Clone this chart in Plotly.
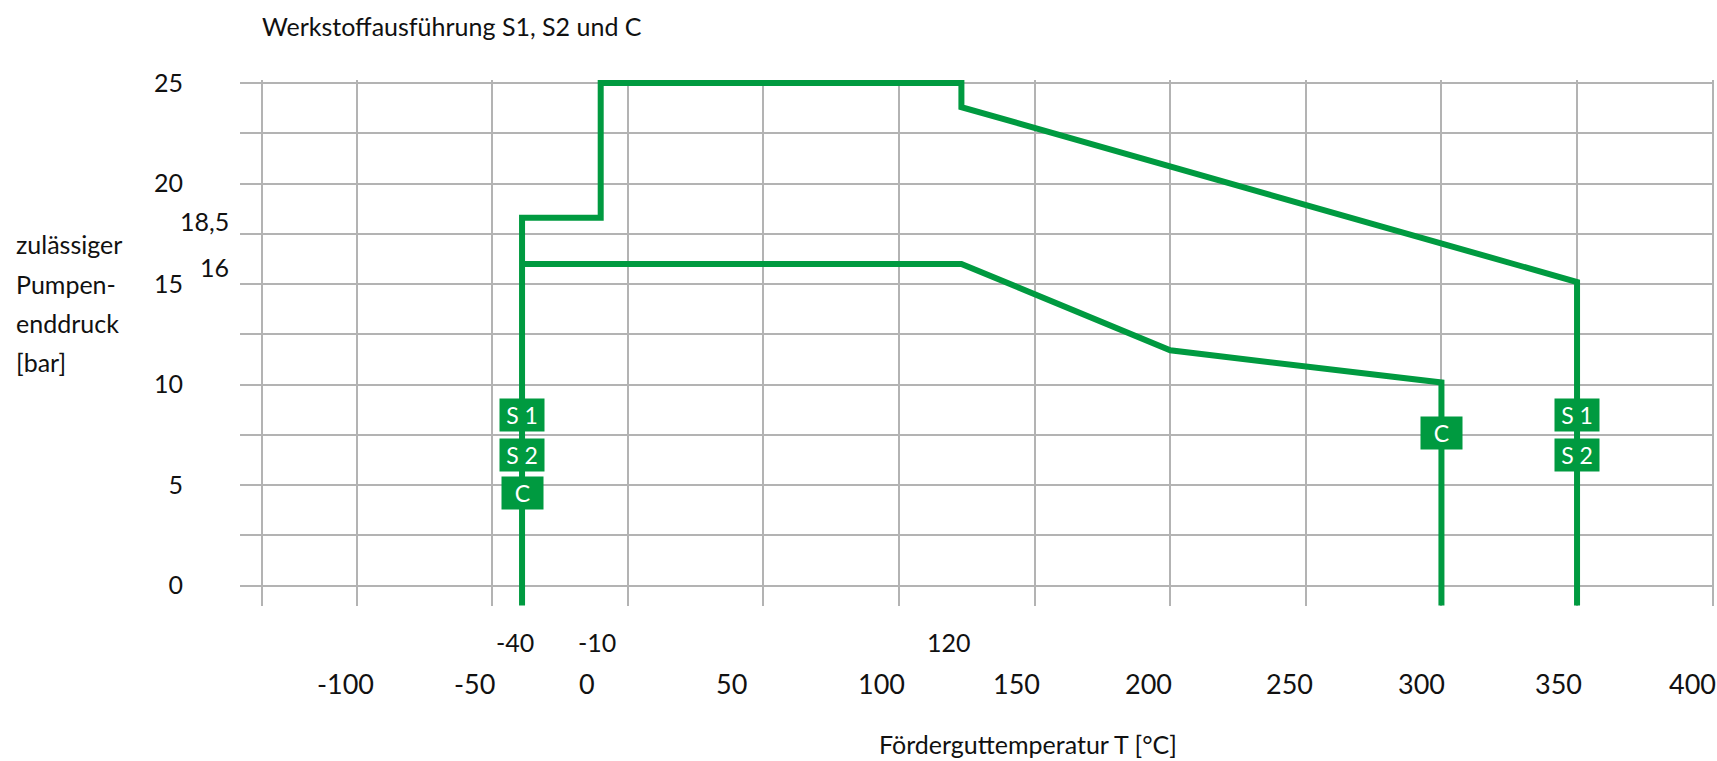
import plotly.graph_objects as go

# ---------------- data ----------------
# outer limit curve (materials S1 / S2)
T_S = [-39, -39, -10, -10, 123, 123, 350, 350]
P_S = [-1.0, 18.3, 18.3, 25, 25, 23.8, 15.1, -1.0]
# inner limit curve (material C)
T_C = [-39, 123, 200, 300, 300]
P_C = [16, 16, 11.7, 10.1, -1.0]

# material tags on the curves
tag_T = [-39, -39, -39, 300, 350, 350]
tag_P = [8.5, 6.5, 4.6, 7.6, 8.5, 6.5]
tag_text = ["S 1", "S 2", "C", "C", "S 1", "S 2"]

# axis ticks
x_grid_vals = [-135, -100, -50, 0, 50, 100, 150, 200, 250, 300, 350, 400]
x_label_vals = [-100, -50, 0, 50, 100, 150, 200, 250, 300, 350, 400]
x_label_text = ["-100", "-50", "0", "50", "100", "150", "200", "250", "300", "350", "400"]
x_extra_vals = [-40, -10, 120]
x_extra_text = ["-40", "-10", "120"]
y_tick_vals = [0, 2.5, 5, 7.5, 10, 12.5, 15, 17.5, 20, 22.5, 25]
y_tick_text = ["0", "", "5", "", "10", "", "15", "", "20", "", "25"]
y_extra_vals = [18.3, 16]
y_extra_text = ["18,5", "16"]

title_text = "Werkstoffausführung S1, S2 und C"
y_title_lines = ["zulässiger", "Pumpen-", "enddruck", "[bar]"]
x_title_text = "Förderguttemperatur T [°C]"

# ---------------- style / layout ----------------
GREEN = "#009a40"
GRID = "#b3b3b3"
FONT = "Lato"
TXT = "#111111"
# horizontal pixel offsets of the hand-placed x tick labels (as in the original drawing)
x_label_shift = [-11, -18, -41, -32, -18, -18, -22, -16, -20, -19, -20]

fig = go.Figure()
fig.add_trace(go.Scatter(x=T_S, y=P_S, mode="lines",
                         line=dict(color=GREEN, width=6), hoverinfo="skip", showlegend=False))
fig.add_trace(go.Scatter(x=T_C, y=P_C, mode="lines",
                         line=dict(color=GREEN, width=6), hoverinfo="skip", showlegend=False))

annotations = []
for t, p, s in zip(tag_T, tag_P, tag_text):
    annotations.append(dict(x=t, y=p, xref="x", yref="y", text=s, showarrow=False,
                            bgcolor=GREEN, width=42 if s != "C" else 39, height=30,
                            font=dict(family=FONT, size=23, color="white"),
                            xanchor="center", yanchor="middle"))
for v, s, sh in zip(x_label_vals, x_label_text, x_label_shift):
    annotations.append(dict(x=v, y=(606 - 683) / 526, xref="x", yref="paper", text=s,
                            showarrow=False, xshift=sh,
                            font=dict(family=FONT, size=27, color=TXT),
                            xanchor="center", yanchor="middle"))
for v, s in zip(x_extra_vals, x_extra_text):
    annotations.append(dict(x=v, y=(606 - 642) / 526, xref="x", yref="paper", text=s,
                            showarrow=False, xshift=-4,
                            font=dict(family=FONT, size=25, color=TXT),
                            xanchor="center", yanchor="middle"))
for v, s in zip(y_extra_vals, y_extra_text):
    annotations.append(dict(x=0, y=v, xref="paper", yref="y", text=s, showarrow=False,
                            xshift=-9, yshift=-3, font=dict(family=FONT, size=25, color=TXT),
                            xanchor="right", yanchor="middle"))
y_title_px = [244, 284, 323, 362]
for line, py in zip(y_title_lines, y_title_px):
    annotations.append(dict(x=(14 - 240) / 1474, y=(606 - py) / 526, xref="paper", yref="paper",
                            text=line, showarrow=False, font=dict(family=FONT, size=25, color=TXT),
                            xanchor="left", yanchor="middle"))
annotations.append(dict(x=(1028 - 240) / 1474, y=(606 - 744) / 526, xref="paper", yref="paper",
                        text=x_title_text, showarrow=False, font=dict(family=FONT, size=25, color=TXT),
                        xanchor="center", yanchor="middle"))

fig.update_layout(
    width=1717, height=761,
    margin=dict(l=240, r=3, t=80, b=155),
    paper_bgcolor="white", plot_bgcolor="white",
    font=dict(family=FONT, size=25, color=TXT),
    title=dict(text=title_text, x=(262 - 240) / 1474, xref="paper", xanchor="left",
               y=1 - 27 / 761, yref="container", yanchor="middle",
               font=dict(family=FONT, size=25, color=TXT)),
    xaxis=dict(range=[-143, 400.5], tickvals=x_grid_vals, showticklabels=False,
               showgrid=True, gridcolor=GRID, gridwidth=1.5, zeroline=False, showline=False,
               ticks="", fixedrange=True),
    yaxis=dict(range=[-1.02, 25.15], tickvals=y_tick_vals, ticktext=y_tick_text,
               showgrid=True, gridcolor=GRID, gridwidth=1.5, zeroline=False, showline=False,
               ticks="", ticklabelstandoff=56,
               tickfont=dict(family=FONT, size=25, color=TXT), fixedrange=True),
    annotations=annotations,
)

fig.write_html("out.html", config={"displayModeBar": False},
               post_script="document.body.style.margin='0px';document.body.style.overflow='hidden';")
